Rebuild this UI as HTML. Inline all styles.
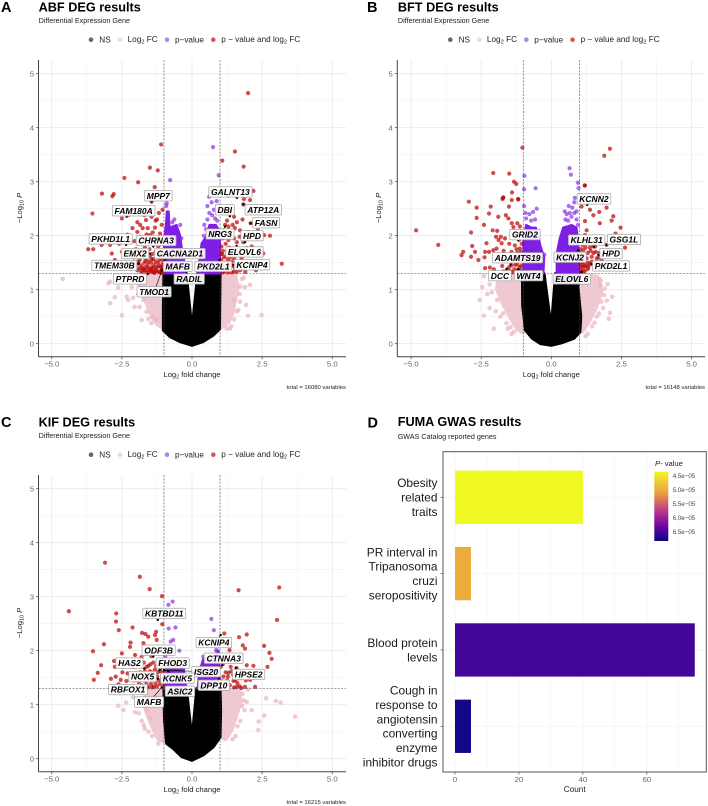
<!DOCTYPE html>
<html lang="en">
<head>
<meta charset="utf-8">
<title>DEG volcano plots and FUMA GWAS results</title>
<style>
html,body{margin:0;padding:0;background:#fff}
svg{display:block;font-family:"Liberation Sans",sans-serif}
.title{font-size:12.7px;font-weight:bold;fill:#000}
.sub{font-size:7.2px;fill:#222}
.letter{font-size:14.5px;font-weight:bold;fill:#000}
.leg{font-size:8.2px;fill:#222}
.axt{font-size:7.6px;fill:#222}
.cap{font-size:5.9px;fill:#222}
.tick{font-size:7.7px;fill:#666}
.gene{font-size:8.5px;font-weight:bold;font-style:italic;fill:#000}
.trait{font-size:11.9px;fill:#1a1a1a}
</style>
</head>
<body>
<svg id="figure" xmlns="http://www.w3.org/2000/svg" width="708" height="806" viewBox="0 0 708 806">
<defs>
<linearGradient id="plasma" x1="0" y1="0" x2="0" y2="1">
<stop offset="0" stop-color="#f0f921"/><stop offset=".12" stop-color="#f2d13a"/><stop offset=".3" stop-color="#e8a33d"/><stop offset=".5" stop-color="#c9507a"/><stop offset=".65" stop-color="#a0209a"/><stop offset=".82" stop-color="#5a04a0"/><stop offset="1" stop-color="#0d0887"/>
</linearGradient>
</defs>

<g id="panel-a">
<text class="letter" x="1" y="12">A</text>
<text class="title" x="38.6" y="11.7">ABF DEG results</text>
<text class="sub" x="38.6" y="23">Differential Expression Gene</text>
<g transform="translate(0,39.7)">
<circle cx="91" cy="0" r="2.3" fill="#666"/><text class="leg" x="99.3" y="3">NS</text>
<circle cx="120" cy="0" r="2.3" fill="#f6d6de"/><text class="leg" x="127.6" y="2.4">Log<tspan dy="1.6" font-size="5.8">2</tspan><tspan dy="-1.6"> FC</tspan></text>
<circle cx="167" cy="0" r="2.3" fill="#b583f2"/><text class="leg" x="175" y="3">p−value</text>
<circle cx="213.3" cy="0" r="2.3" fill="#cf5a5c"/><text class="leg" x="221.3" y="2.4">p − value and log<tspan dy="1.6" font-size="5.8">2</tspan><tspan dy="-1.6"> FC</tspan></text>
</g>
<g id="plot-a"></g>
<text class="axt" x="192" y="377" text-anchor="middle">Log<tspan dy="1.5" font-size="5.4">2</tspan><tspan dy="-1.5"> fold change</tspan></text>
<text class="axt" transform="translate(22,208) rotate(-90)" text-anchor="middle">−Log<tspan dy="1.5" font-size="5.4">10</tspan><tspan dy="-1.5" font-style="italic"> P</tspan></text>
<text class="cap" x="346" y="389" text-anchor="end">total = 16080 variables</text>
</g>

<g id="panel-b">
<text class="letter" x="367" y="12">B</text>
<text class="title" x="397.9" y="11.7">BFT DEG results</text>
<text class="sub" x="397.9" y="23">Differential Expression Gene</text>
<g transform="translate(359.3,39.7)">
<circle cx="91" cy="0" r="2.3" fill="#666"/><text class="leg" x="99.3" y="3">NS</text>
<circle cx="120" cy="0" r="2.3" fill="#f6d6de"/><text class="leg" x="127.6" y="2.4">Log<tspan dy="1.6" font-size="5.8">2</tspan><tspan dy="-1.6"> FC</tspan></text>
<circle cx="167" cy="0" r="2.3" fill="#b583f2"/><text class="leg" x="175" y="3">p−value</text>
<circle cx="213.3" cy="0" r="2.3" fill="#cf5a5c"/><text class="leg" x="221.3" y="2.4">p − value and log<tspan dy="1.6" font-size="5.8">2</tspan><tspan dy="-1.6"> FC</tspan></text>
</g>
<g id="plot-b"></g>
<text class="axt" x="551.3" y="377" text-anchor="middle">Log<tspan dy="1.5" font-size="5.4">2</tspan><tspan dy="-1.5"> fold change</tspan></text>
<text class="axt" transform="translate(381,208) rotate(-90)" text-anchor="middle">−Log<tspan dy="1.5" font-size="5.4">10</tspan><tspan dy="-1.5" font-style="italic"> P</tspan></text>
<text class="cap" x="705" y="389" text-anchor="end">total = 16148 variables</text>
</g>

<g id="panel-c">
<text class="letter" x="1" y="427">C</text>
<text class="title" x="38.6" y="426.7">KIF DEG results</text>
<text class="sub" x="38.6" y="438">Differential Expression Gene</text>
<g transform="translate(0,454.7)">
<circle cx="91" cy="0" r="2.3" fill="#666"/><text class="leg" x="99.3" y="3">NS</text>
<circle cx="120" cy="0" r="2.3" fill="#f6d6de"/><text class="leg" x="127.6" y="2.4">Log<tspan dy="1.6" font-size="5.8">2</tspan><tspan dy="-1.6"> FC</tspan></text>
<circle cx="167" cy="0" r="2.3" fill="#b583f2"/><text class="leg" x="175" y="3">p−value</text>
<circle cx="213.3" cy="0" r="2.3" fill="#cf5a5c"/><text class="leg" x="221.3" y="2.4">p − value and log<tspan dy="1.6" font-size="5.8">2</tspan><tspan dy="-1.6"> FC</tspan></text>
</g>
<g id="plot-c"></g>
<text class="axt" x="192" y="792" text-anchor="middle">Log<tspan dy="1.5" font-size="5.4">2</tspan><tspan dy="-1.5"> fold change</tspan></text>
<text class="axt" transform="translate(22,623) rotate(-90)" text-anchor="middle">−Log<tspan dy="1.5" font-size="5.4">10</tspan><tspan dy="-1.5" font-style="italic"> P</tspan></text>
<text class="cap" x="346" y="804" text-anchor="end">total = 16215 variables</text>
</g>

<g id="panel-d">
<text class="letter" x="367.5" y="427.5">D</text>
<text class="title" x="397.7" y="426">FUMA GWAS results</text>
<text class="sub" x="397.7" y="438.8">GWAS Catalog reported genes</text>
<g id="plot-d"></g>
<text class="axt" x="574.7" y="792" text-anchor="middle" style="font-size:8.2px">Count</text>
<g>
<text x="655" y="466" font-size="7.6" fill="#222"><tspan font-style="italic">P</tspan>- value</text>
<rect x="654.3" y="471.7" width="14" height="69.3" fill="url(#plasma)"/>
<g id="colorbar-labels"></g>
</g>
</g>
</svg>

<script>
// Shared axis tick labels
const xTickValues = [-5, -2.5, 0, 2.5, 5];
const xTickLabels = ['−5.0', '−2.5', '0.0', '2.5', '5.0'];
const yTickValues = [0, 1, 2, 3, 4, 5];
const lfcThreshold = 1;
const pThreshold = 1.3;

// ABF panel
const abfNsOutline = [[-1,1.3],[-1.02,.7],[-1.02,.25],[-.78,.13],[-.43,.04],[0,-.03],[.4,.04],[.76,.16],[.98,.27],[1,1.3],[.2,1.3],[.16,1.07],[0,.25],[-.16,1.07],[-.2,1.3]];
const abfPinkCoreLeft = [[-1,1.3],[-1.72,1.28],[-1.88,1.1],[-1.75,.9],[-1.6,.7],[-1.45,.5],[-1.25,.35],[-1.02,.28]];
const abfPinkCoreRight = [[1,1.3],[1.55,1.28],[1.65,1.05],[1.55,.8],[1.45,.55],[1.3,.38],[1.02,.28]];
const abfPurpleLeft = [[-1,1.3],[-1,1.95],[-.93,2.2],[-.9,2.45],[-.83,2.45],[-.8,2.15],[-.55,2.2],[-.42,2],[-.37,1.8],[-.29,1.6],[-.25,1.3]];
const abfPurpleRight = [[.22,1.3],[.27,1.58],[.34,1.86],[.52,2],[.62,2.2],[.85,2.2],[.97,2.1],[1,2],[1,1.3]];
const abfPurple = [[.75,3.64],[.95,3.12],[-.78,3.03],[.61,2.72],[.88,2.64],[-.9,2.75],[-.92,2.55],[.7,2.62],[.55,2.55],[.92,2.5],[-.63,2.3],[-.42,2.2],[-.38,1.95],[.44,2.2],[.42,2],[.55,2.3],[.62,2.42],[.72,2.38],[.82,2.32],[.9,2.28],[.5,2.12],[.78,2.48],[-.9,2.6],[-.86,2.35],[-.7,2.25]];
const abfPink = [[-4.61,1.2],[-2.92,1.15],[-2.98,1.12],[-2.63,1.04],[-2.33,.87],[-2.92,.75],[-2.75,.86],[-2.5,.53],[-2.28,.81],[-2.05,.68],[-2.1,.85],[-1.79,.44],[-1.62,.59],[-1.74,.81],[-1.87,.68],[-1.5,.93],[-1.38,.5],[-1.26,.44],[-1.72,1.22],[-1.9,1.1],[-1.92,.92],[-2.15,1.05],[-2.2,1.18],[-1.55,.46],[-1.45,.38],
[2.48,.53],[2,.52],[2.07,1.09],[1.93,.72],[1.35,.28],[1.24,.28],[1.71,.78],[1.47,.81],[1.89,1.05],[1.72,1.06],[1.78,1.2],[1.6,.6],[1.7,.92],[1.65,.62],[1.5,.45],[1.4,.32],[1.85,1.22]];
const abfRed = [[-1.1,3.69],[-1.5,3.26],[-1.22,3.21],[-2.41,3.07],[-1.92,2.99],[-1.33,2.9],[-3.21,2.78],[-2.79,2.77],[-2.84,2.73],[-3.55,2.41],[-1.44,2.63],[-2.5,2.32],[-2.27,2.38],[-1.95,2.25],[-1.85,2.2],[-1.64,2.29],[-1.44,2.35],[-1.32,2.15],[-1.08,2.2],[-1.95,2.07],[-2.12,2.14],[-1.76,2.14],[-1.58,2.14],[-1.85,1.98],[-1.5,2.01],[-1.14,2.04],[-3.7,1.75],[-3.52,1.75],[-3.22,1.83],[-2.86,1.67],[-2.92,1.83],[-2.27,1.7],[-2.5,1.7],[-2.6,1.85],[-2.05,1.9],[-1.7,1.9],[-1.35,1.92],[-1.05,1.85],[-1.2,1.8],[-2.1,1.62],[-2.3,1.5],[-2.55,1.45],[-2.75,1.55],[-2,1.75],[-1.85,1.72],[-1.68,1.78],[-1.52,1.75],[-1.3,1.7],[-1.12,1.68],[-1.25,2.3],[-1.18,2.42],[-1.05,2.48],[-1.4,2.06],[-1.62,2.02],[-2.3,2.02],[-2.2,1.88],[-1.92,1.85],[-1.55,1.88],[-1.2,1.95],[-1.08,1.98],[-1.3,2.28],[-1.7,2.38],[-1.55,2.48],
[-1.98,1.6],[-1.86,1.56],[-1.75,1.62],[-1.62,1.58],[-1.5,1.62],[-1.38,1.57],[-1.24,1.6],[-1.08,1.56],[-2.02,1.44],[-1.92,1.48],[-1.8,1.45],[-1.7,1.5],[-1.58,1.46],[-1.46,1.5],[-1.34,1.46],[-1.2,1.5],[-1.06,1.46],[-1.95,1.36],[-1.82,1.34],[-1.72,1.38],[-1.6,1.33],[-1.5,1.38],[-1.4,1.33],[-1.28,1.38],[-1.16,1.33],[-1.04,1.36],[-1.88,1.4],[-1.65,1.42],[-1.43,1.42],[-1.26,1.42],[-1.12,1.42],[-1.54,1.32],[-1.34,1.31],[-1.1,1.31],[-1.9,1.52],[-1.78,1.4],[-1.66,1.54],[-1.55,1.52],[-1.44,1.56],[-1.3,1.52],[-1.16,1.56],[-1.02,1.5],[-1.75,1.32],[-1.45,1.35],[-1.22,1.34],[-1.04,1.42],[-1.68,1.36],[-1.56,1.4],[-1.38,1.4],[-1.18,1.44],[-1.08,1.38],[-1.3,1.34],[-1.85,1.66],[-1.6,1.68],[-1.42,1.66],[-1.2,1.66],[-1.05,1.62],[-1.72,1.7],[-2.08,1.52],[-2.15,1.38],
[2,4.64],[1.53,3.56],[1.08,3.39],[1.84,3.28],[2.19,2.83],[1.85,2.68],[2.07,2.66],[1.29,2.74],[3.2,1.48],[2.78,2],[2.57,2.01],[2.54,2.23],[2.48,2.26],[1.83,2.58],[1.4,2.46],[1.5,2.35],[2.09,2.23],[2.01,2.07],[2.3,1.95],[1.71,2.1],[1.53,2.14],[1.35,2.04],[1.18,2.2],[1.3,2.17],[1.18,2.08],[1.42,1.98],[1.6,1.88],[1.83,1.88],[2.13,1.8],[2.42,1.73],[2.13,1.71],[1.77,1.58],[2.54,1.67],[1.96,1.77],[1.1,1.95],[1.05,1.8],[1.2,1.85],[1.32,1.78],[1.44,1.75],[1.6,1.65],[1.08,1.66],[1.22,1.62],[1.36,1.6],[1.5,1.58],[1.04,1.55],[1.16,1.5],[1.3,1.48],[1.44,1.44],[1.06,1.42],[1.2,1.38],[1.34,1.36],[1.5,1.34],[1.72,1.36],[1.9,1.33],[2.28,1.36],[1.1,1.32],[1.62,1.44],[1.1,1.72],[1.25,1.72],[1.4,1.68],[1.55,1.72],[1.7,1.74],[1.85,1.65],[1.04,1.66],[1.14,1.6],[1.28,1.55],[1.42,1.52],[1.58,1.48],[1.75,1.48],[1.04,1.46],[1.12,1.44],[1.24,1.42],[1.38,1.44],[1.52,1.42],[1.02,1.36],[1.15,1.34],[1.28,1.32],[1.42,1.32],[1.6,1.33],[1.3,1.92],[1.5,1.95],[1.7,1.98],[1.95,1.95],[1.25,2.28],[1.6,2.25],[1.8,2.3],[1.45,2.2],[2.1,2.42],[2.35,2.1]];
const abfGenes = [['GALNT13',1.6,2.7,1.37,2.81],['MPP7',-1.44,2.63,-1.2,2.74],['DBI',1.35,2.36,1.17,2.48],['ATP12A',1.83,2.58,2.54,2.48],['FAM180A',-2.33,2.35,-2.08,2.46],['FASN',2.09,2.23,2.64,2.24],['NRG3',1.18,2.17,1,2.03],['PKHD1L1',-2.35,1.83,-2.9,1.94],['CHRNA3',-1.38,1.8,-1.28,1.91],['HPD',1.89,1.88,2.14,2],['ELOVL6',1.59,1.81,1.87,1.7],['EMX2',-1.5,1.67,-2.03,1.67],['CACNA2D1',-.96,1.56,-.43,1.67],['TMEM30B',-1.91,1.48,-2.77,1.45],['TMOD1',-1.08,1.35,-1.35,.96],['MAFB',-1.08,1.36,-.51,1.43],['PKD2L1',.98,1.55,.76,1.43],['KCNIP4',1.47,1.46,2.14,1.46],['PTPRD',-1.59,1.29,-2.21,1.2],['RADIL',-.1,1.2,-.1,1.2]];

// BFT panel
const bftNsOutline = [[-1.03,1.3],[-1.02,.7],[-.92,.25],[-.68,.1],[-.38,0],[0,-.03],[.39,.02],[.81,.1],[1.02,.22],[1.05,.5],[.95,1.05],[1,1.3],[.15,1.3],[0,.28],[-.26,1.3]];
const bftPinkCoreLeft = [[-1,1.3],[-1.9,1.25],[-1.95,1],[-1.75,.75],[-1.5,.5],[-1.2,.25],[-1,.2]];
const bftPinkCoreRight = [[1,1.3],[1.65,1.25],[1.8,.95],[1.6,.65],[1.35,.4],[1.12,.22],[1,.2]];
const bftPurpleLeft = [[-1,1.3],[-1,1.95],[-.9,2.2],[-.7,2.15],[-.55,2.15],[-.46,2],[-.38,1.8],[-.25,1.6],[-.28,1.3]];
const bftPurpleRight = [[.19,1.3],[.19,1.67],[.3,1.95],[.42,2.15],[.72,2.2],[.9,2.15],[.96,1.9],[1,1.3]];
const bftPurple = [[-.96,3.11],[-.97,2.86],[-.56,2.88],[.65,3.25],[.7,3.13],[.95,2.98],[.97,2.88],[.84,2.7],[-.97,2.55],[.62,2.55],[.55,2.4],[-.25,1.65],[-.52,2.5],[.9,2.45],[.82,2.62],[-.9,2.32],[-.78,2.4],[-.65,2.44],[-.58,2.3],[-.72,2.28],[-.92,2.42],[.5,2.3],[.6,2.28],[.72,2.35],[.82,2.42],[.75,2.52],[.9,2.3],[.66,2.42],[.48,2.45],[.95,2.2]];
const bftPink = [[-2.55,.81],[-2.46,1.05],[-2.4,.52],[-2.05,.28],[-2.2,.66],[-1.93,.81],[-1.72,.56],[-1.45,.31],[-1.33,.22],[-2.4,1.25],[-2.2,1.1],[-2,1.2],[-2.12,.95],[-2.28,.92],[-1.98,.6],[-1.82,.5],[-1.6,.38],[-1.55,.28],[-1.42,.18],
[2.17,.87],[2.09,.57],[2.05,.46],[1.88,.9],[1.76,1.08],[1.76,1.16],[1.7,.56],[1.54,.39],[1.22,.14],[1.72,1.2],[1.9,1.02],[1.98,.8],[1.85,.66],[1.78,.78],[1.45,.32],[1.62,.5],[2.0,1.1],[1.3,.18]];
const bftRed = [[-1.03,3.63],[-2.07,3.16],[-1.5,3.15],[-1.33,3],[-1.25,2.96],[-1.4,2.8],[-1.72,2.7],[-1.74,2.68],[-1.18,2.68],[-4.82,2.1],[-4.03,1.83],[-2.94,2.63],[-2.66,2.52],[-2.66,2.33],[-2.16,2.54],[-2.22,2.41],[-2.4,2.2],[-2.86,2.06],[-2.82,1.81],[-3.14,1.7],[-3.2,1.64],[-2.86,1.61],[-2.6,1.55],[-2.36,1.4],[-2.19,1.41],[-2.31,1.86],[-2.72,1.7],[-2.36,1.7],[-2.22,1.7],[-2.38,1.6],[-2.07,1.73],[-2.09,2.1],[-1.93,2.09],[-1.89,2.35],[-1.62,2.38],[-1.51,2.54],[-1.71,2.71],[-1.41,2.66],[-1.18,2.67],[-1.53,2.32],[-1.41,2.23],[-1.21,2.23],[-1.12,2.17],[-1.97,1.98],[-1.88,1.92],[-1.77,1.86],[-1.95,1.76],[-1.35,2.16],[-1.8,1.98],[-1.65,1.95],[-1.3,1.98],[-1.15,1.92],[-1.05,1.85],[-1.5,1.85],[-1.3,1.82],[-1.12,1.76],[-1.7,1.72],[-1.42,1.7],[-1.22,1.68],[-1.06,1.62],[-1.85,1.58],[-1.6,1.55],[-1.35,1.58],[-1.15,1.55],[-1.75,1.44],[-1.5,1.42],[-1.28,1.46],[-1.08,1.44],[-1.2,1.36],[-1.04,1.34],[-1.38,1.32],[-2.05,1.38],[-1.7,1.34],[-1.24,1.75],[-1.1,1.7],[-1.3,1.62],[-1.18,1.62],[-1.05,1.52],[-1.22,1.48],[-1.14,1.42],[-1.42,1.45],[-1.32,1.38],[-1.1,1.36],[-1.55,1.36],[-1.25,1.34],[-1.45,1.34],
[1.19,2.93],[2.09,3.61],[1.89,3.48],[1.2,2.93],[1.08,2.54],[1.38,2.48],[1.71,2.44],[1.97,2.52],[2.21,2.36],[2.15,2.28],[1.5,2.38],[1.73,2.23],[1.2,2.27],[1.26,2.1],[2.47,2.15],[2.29,2.04],[1.97,1.83],[2.63,1.78],[1.2,2.01],[1.08,1.92],[1.14,1.73],[1.38,1.78],[1.56,1.8],[1.26,1.58],[1.62,1.58],[1.79,1.55],[1.44,1.61],[1.38,1.47],[1.14,1.4],[1.05,1.43],[1.2,1.35],[1.32,1.5],[1.05,1.6],[1.12,1.52],[1.3,1.68],[1.5,1.68],[1.7,1.68],[1.85,1.7],[1.04,1.75],[1.25,1.85],[1.45,1.88],[1.06,1.32],[1.14,1.32],[1.3,1.38],[1.05,1.36],[1.18,1.65],[1.22,1.78],[1.4,1.72],[1.58,1.7],[1.2,1.5],[1.1,1.46],[1.25,1.44],[1.45,1.52],[1.58,1.48],[1.1,1.6],[1.32,1.42],[1.18,1.44],[1.02,1.5],[1.02,1.68],[1.7,1.6],[1.5,1.8],[1.12,1.82]];
const bftGenes = [['KCNN2',1.28,2.57,1.52,2.68],['GRID2',-1.18,1.92,-.94,2.02],['KLHL31',1.52,1.8,1.26,1.92],['GSG1L',1.97,1.83,2.59,1.93],['HPD',1.68,1.64,2.13,1.67],['ADAMTS19',-1.45,1.47,-1.2,1.59],['KCNJ2',.96,1.73,.67,1.6],['PKD2L1',1.44,1.47,2.13,1.44],['DCC',-1.59,1.39,-1.83,1.26],['WNT4',-1.18,1.38,-.81,1.26],['ELOVL6',1.08,1.33,.73,1.2]];

// KIF panel
const kifNsOutline = [[-1,1.3],[-.98,.7],[-.9,.28],[-.67,.19],[-.37,.04],[0,-.03],[.4,.07],[.76,.22],[1,.4],[1.02,.9],[1,1.3],[.17,1.3],[0,.35],[-.2,1.3]];
const kifPinkCoreLeft = [[-1,1.3],[-1.6,1.25],[-1.75,1.05],[-1.6,.8],[-1.4,.55],[-1.2,.35],[-.98,.3]];
const kifPinkCoreRight = [[1,1.3],[1.7,1.28],[1.75,1.05],[1.6,.8],[1.4,.5],[1.2,.35],[1,.4]];
const kifPurpleLeft = [[-1,1.3],[-1,1.62],[-.9,1.72],[-.3,1.7],[-.25,1.5],[-.2,1.3]];
const kifPurpleRight = [[.2,1.3],[.25,1.6],[.4,1.85],[.85,1.9],[.95,2],[1,1.3]];
const kifPurple = [[-.69,2.91],[-.84,2.85],[.69,2.59],[.78,2.38],[-.83,2.41],[-.59,2.43],[-.67,2.2],[-.76,2.17],[-.45,2],[.86,2.01],[.9,1.98],[.4,1.89],[.92,2.08],[-.9,2.02],[-.95,1.9]];
const kifPink = [[-2.63,.98],[-2.45,.9],[-2.35,1.04],[-2.03,.86],[-1.79,.7],[-1.68,.56],[-1.2,.28],[-1.62,.9],[-1.5,.76],[-2.1,1.14],[-1.9,1.1],[-1.8,1.02],[-1.55,.5],[-1.42,.42],[-1.9,.84],[-1.72,.62],
[3.67,.78],[3.16,1.04],[2.99,1.07],[2.64,1.12],[2.58,.8],[2.38,.69],[2.36,.53],[2.13,.9],[1.87,.9],[2,1.28],[1.8,1.2],[1.55,.42],[1.72,.7],[1.85,1.08],[1.62,.6],[1.45,.36],[1.95,1.05],[1.78,.98]];
const kifRed = [[-3.1,3.63],[-1.86,3.37],[-1.51,3.14],[1.66,3.12],[3.11,3.17],[-1.07,3.01],[-4.39,2.73],[-2.7,2.69],[-2.71,2.54],[-2.61,2.38],[-3.14,2.12],[-3.53,1.99],[-3.24,1.73],[-3.36,1.59],[-3.5,1.46],[-2.89,1.48],[-2.72,1.52],[-2.54,1.46],[-2.34,1.44],[-2.75,1.7],[-2.78,1.81],[-2.5,1.95],[-2.19,2.15],[-2.21,2.07],[-2.12,2.43],[-1.78,2.33],[-1.66,2.31],[-1.56,2.26],[-1.73,2.14],[-2.03,1.92],[-1.28,2.35],[-1.32,2.29],[-1.26,2.2],[-1.06,2.49],[-2.48,1.6],[-2.62,1.38],[-2.3,1.58],[-2.1,1.7],[-2.05,1.45],[-2.12,1.35],
[-1.8,1.88],[-1.62,1.95],[-1.45,1.9],[-1.72,1.78],[-1.55,1.72],[-1.38,1.78],[-1.2,1.8],[-1.06,1.75],[-1.85,1.6],[-1.68,1.62],[-1.5,1.62],[-1.32,1.65],[-1.12,1.62],[-1.75,1.5],[-1.58,1.48],[-1.4,1.52],[-1.24,1.52],[-1.06,1.5],[-1.62,1.38],[-1.46,1.38],[-1.3,1.4],[-1.14,1.38],[-1.55,1.32],[-1.36,1.33],[-1.02,1.34],[-1.9,1.42],[-1.95,1.72],[-1.62,1.7],[-1.48,1.75],[-1.28,1.72],[-1.14,1.7],[-1.42,1.6],[-1.22,1.6],[-1.05,1.58],[-1.55,1.55],[-1.35,1.45],[-1.18,1.45],[-1.48,1.45],[-1.68,1.44],[-1.08,1.42],[-1.25,1.34],[-1.42,1.32],[-1.65,1.33],[-1.8,1.36],
[3.03,2.57],[1.95,2.3],[1.68,2.25],[1.81,2.1],[1.89,2.04],[2.57,2.09],[2.76,1.96],[2.84,1.85],[2.69,1.7],[1.34,2.01],[1.15,2.32],[2.19,1.72],[1.95,1.73],[1.59,1.68],[1.38,1.7],[1.3,1.59],[1.47,1.55],[1.71,1.49],[2.07,1.46],[2.25,1.33],[1.89,1.33],[1.59,1.33],[1.76,1.31],[1.25,1.45],[1.12,1.52],[1.35,1.36],[1.48,1.44],[1.02,1.7],[1.1,1.75],[1.7,1.34],[1.62,1.4],[1.92,1.45],[1.4,1.62],[1.2,1.6],[1.55,1.45],[1.15,1.38],[1.05,1.44],[1.28,1.52],[1.82,1.6],[1.5,1.32]];
const kifGenes = [['KBTBD11',-1.22,2.57,-.99,2.69],['KCNIP4',1.02,2.29,.78,2.15],['ODF3B',-1.38,1.89,-1.19,2.01],['CTNNA3',1.08,1.73,1.13,1.86],['HAS2',-1.7,1.67,-2.23,1.77],['FHOD3',-1.16,1.64,-.69,1.77],['ISG20',-1,1.64,.5,1.61],['NOX5',-1.22,1.48,-1.76,1.52],['KCNK5',-.85,1.62,-.52,1.49],['HPSE2',1.56,1.68,2.02,1.56],['DPP10',.97,1.49,.78,1.36],['RBFOX1',-1.59,1.33,-2.28,1.28],['ASIC2',-.43,1.25,-.43,1.25],['MAFB',-1.08,1.32,-1.53,1.05]];

// GWAS panel
const traitLines = [['Obesity','related','traits'],['PR interval in','Tripanosoma','cruzi','seropositivity'],['Blood protein','levels'],['Cough in','response to','angiotensin','converting','enzyme','inhibitor drugs']];
const traitCounts = [40, 5, 75, 5];
const traitPValues = [4.35e-5, 5.0e-5, 6.5e-5, 6.8e-5];
const countTicks = [0, 20, 40, 60];
const colorbarTicks = [4.5e-5, 5.0e-5, 5.5e-5, 6.0e-5, 6.5e-5];
const colorbarLabels = ['4.5e−05', '5.0e−05', '5.5e−05', '6.0e−05', '6.5e−05'];

const NS = 'http://www.w3.org/2000/svg';
function make(tag, attrs, parent) {
  const node = document.createElementNS(NS, tag);
  for (const k in attrs) node.setAttribute(k, attrs[k]);
  parent.appendChild(node);
  return node;
}

function drawVolcano(groupId, geom, nsOutline, pinkCoreLeft, pinkCoreRight, purpleLeft, purpleRight, purple, pink, red, genes) {
  const root = document.getElementById(groupId);
  const sx = v => geom.x0 + v * 28.05;
  const sy = v => geom.y0 - v * 54;
  const top = sy(5) - 13.7, bottom = sy(0) + 13;
  const polyPoints = arr => arr.map(p => sx(p[0]).toFixed(2) + ',' + sy(p[1]).toFixed(2)).join(' ');

  for (let i = -5; i <= 5; i += 1.25) {
    const major = Math.abs(i / 2.5 - Math.round(i / 2.5)) < 1e-6;
    const g = make('line', {x1: sx(i), x2: sx(i), y1: top, y2: bottom, stroke: major ? '#e8e8e8' : '#f0f0f0', 'stroke-width': major ? .8 : .55}, root);
    
    
  }
  for (let j = 0; j <= 5; j += .5) {
    const major = Number.isInteger(j);
    const g = make('line', {x1: geom.left, x2: geom.right, y1: sy(j), y2: sy(j), stroke: major ? '#e8e8e8' : '#f0f0f0', 'stroke-width': major ? .8 : .55}, root);
    
    
  }

  const pinkL = make('polygon', {points: polyPoints(pinkCoreLeft), fill: '#f0c8d1', stroke: '#f0c8d1', 'stroke-width': 3, 'stroke-linejoin': 'round'}, root);
  
  
  const pinkR = make('polygon', {points: polyPoints(pinkCoreRight), fill: '#f0c8d1', stroke: '#f0c8d1', 'stroke-width': 3, 'stroke-linejoin': 'round'}, root);
  
  

  pink.forEach(p => {
    const c = make('circle', {cx: sx(p[0]), cy: sy(p[1]), r: 2.3, fill: '#ecb4c0', 'fill-opacity': .72}, root);
    
    
  });

  const nsMass = make('polygon', {points: polyPoints(nsOutline), fill: '#000', stroke: '#000', 'stroke-width': 3, 'stroke-linejoin': 'round'}, root);
  
  

  const purpleL = make('polygon', {points: polyPoints(purpleLeft), fill: '#7f1fe6', stroke: '#7f1fe6', 'stroke-width': 2, 'stroke-linejoin': 'round'}, root);
  
  
  const purpleR = make('polygon', {points: polyPoints(purpleRight), fill: '#7f1fe6', stroke: '#7f1fe6', 'stroke-width': 2, 'stroke-linejoin': 'round'}, root);
  
  

  purple.forEach(p => {
    const c = make('circle', {cx: sx(p[0]), cy: sy(p[1]), r: 2.1, fill: '#7f1fe6', 'fill-opacity': .65}, root);
    
    
  });

  red.forEach(p => {
    const c = make('circle', {cx: sx(p[0]), cy: sy(p[1]), r: 2.1, fill: '#bb0000', 'fill-opacity': .7}, root);
    
    
  });

  const guides = [[sx(-lfcThreshold), sx(-lfcThreshold), top, bottom], [sx(lfcThreshold), sx(lfcThreshold), top, bottom], [geom.left, geom.right, sy(pThreshold), sy(pThreshold)]];
  guides.forEach(d => {
    const l = make('line', {x1: d[0], x2: d[1], y1: d[2], y2: d[3], stroke: '#444', 'stroke-width': .6, 'stroke-dasharray': '2 1.4'}, root);
    
    
  });

  const yAxis = make('line', {x1: geom.left, x2: geom.left, y1: top, y2: bottom, stroke: '#444', 'stroke-width': 1}, root);
  
  
  const xAxis = make('line', {x1: geom.left, x2: geom.right, y1: bottom, y2: bottom, stroke: '#444', 'stroke-width': 1}, root);
  
  

  xTickValues.forEach((v, i) => {
    const m = make('line', {x1: sx(v), x2: sx(v), y1: bottom, y2: bottom + 2.5, stroke: '#444', 'stroke-width': .7}, root);
    
    
    const t = make('text', {x: sx(v), y: bottom + 10, 'text-anchor': 'middle', class: 'tick'}, root);
    
    
    t.textContent = xTickLabels[i];
  });
  yTickValues.forEach(v => {
    const m = make('line', {x1: geom.left - 2.5, x2: geom.left, y1: sy(v), y2: sy(v), stroke: '#444', 'stroke-width': .7}, root);
    
    
    const t = make('text', {x: geom.left - 4.5, y: sy(v) + 2.8, 'text-anchor': 'end', class: 'tick'}, root);
    
    
    t.textContent = String(v);
  });

  genes.forEach(g => {
    const ax = sx(g[1]), ay = sy(g[2]), lx = sx(g[3]), ly = sy(g[4]);
    if (ax !== lx || ay !== ly) {
      const link = make('line', {x1: ax, y1: ay, x2: lx, y2: ly, stroke: '#000', 'stroke-width': .6}, root);
      
      
      const dot = make('circle', {cx: ax, cy: ay, r: 1.2, fill: '#000'}, root);
      
      
    }
  });
  genes.forEach(g => {
    const lx = sx(g[3]), ly = sy(g[4]);
    const box = make('rect', {y: ly - 5.2, height: 10.4, rx: 1, fill: '#fff', 'fill-opacity': .92, stroke: '#a5a5a5', 'stroke-width': .75}, root);
    
    
    const t = make('text', {x: lx, y: ly + 3.1, 'text-anchor': 'middle', class: 'gene'}, root);
    
    
    t.textContent = g[0];
    const w = t.getComputedTextLength() + 4.4;
    box.setAttribute('x', lx - w / 2);
    box.setAttribute('width', w);
  });
}

drawVolcano('plot-a', {x0: 192, y0: 343.7, left: 38.5, right: 346}, abfNsOutline, abfPinkCoreLeft, abfPinkCoreRight, abfPurpleLeft, abfPurpleRight, abfPurple, abfPink, abfRed, abfGenes);
drawVolcano('plot-b', {x0: 551.3, y0: 343.7, left: 397.3, right: 705}, bftNsOutline, bftPinkCoreLeft, bftPinkCoreRight, bftPurpleLeft, bftPurpleRight, bftPurple, bftPink, bftRed, bftGenes);
drawVolcano('plot-c', {x0: 192, y0: 758.7, left: 38.5, right: 346}, kifNsOutline, kifPinkCoreLeft, kifPinkCoreRight, kifPurpleLeft, kifPurpleRight, kifPurple, kifPink, kifRed, kifGenes);

(function drawBars() {
  const root = document.getElementById('plot-d');
  const left = 443, right = 706.3, top = 451.7, bottom = 772;
  const sx = v => 455 + v * 3.197;
  const sy = i => 497.3 + i * 76.33;
  const barH = 53.3;
  const pMin = 4.35e-5, pMax = 6.82e-5;
  const plasmaStops = [[0,[13,8,135]],[.18,[90,4,160]],[.35,[160,32,154]],[.5,[201,80,122]],[.7,[232,163,61]],[.88,[242,209,58]],[1,[240,249,33]]];
  const colorFor = p => {
    const t = Math.max(0, Math.min(1, (pMax - p) / (pMax - pMin)));
    for (let i = 1; i < plasmaStops.length; i++) {
      if (t <= plasmaStops[i][0]) {
        const a = plasmaStops[i - 1], b = plasmaStops[i], f = (t - a[0]) / (b[0] - a[0]);
        return 'rgb(' + a[1].map((c, k) => Math.round(c + (b[1][k] - c) * f)).join(',') + ')';
      }
    }
    return 'rgb(240,249,33)';
  };

  for (let v = 0; v <= 70; v += 10) {
    const g = make('line', {x1: sx(v), x2: sx(v), y1: top, y2: bottom, stroke: '#f3f3f3', 'stroke-width': v % 20 === 0 ? .8 : .5}, root);
    
    
  }
  traitCounts.forEach((count, i) => {
    const g = make('line', {x1: left, x2: right, y1: sy(i), y2: sy(i), stroke: '#f3f3f3', 'stroke-width': .8}, root);
    
    
    const bar = make('rect', {x: sx(0), y: sy(i) - barH / 2, width: sx(count) - sx(0), height: barH, fill: colorFor(traitPValues[i])}, root);
    
    
    const m = make('line', {x1: left - 2.5, x2: left, y1: sy(i), y2: sy(i), stroke: '#444', 'stroke-width': .7}, root);
    
    
    const lines = traitLines[i];
    lines.forEach((txt, k) => {
      const t = make('text', {x: 437.5, y: sy(i) + (k - (lines.length - 1) / 2) * 14.35 + 4.2, 'text-anchor': 'end', class: 'trait'}, root);
      
      
      t.textContent = txt;
    });
  });
  const frame = make('rect', {x: left, y: top, width: right - left, height: bottom - top, fill: 'none', stroke: '#555', 'stroke-width': 1}, root);
  
  
  countTicks.forEach(v => {
    const m = make('line', {x1: sx(v), x2: sx(v), y1: bottom, y2: bottom + 2.5, stroke: '#444', 'stroke-width': .7}, root);
    
    
    const t = make('text', {x: sx(v), y: bottom + 10, 'text-anchor': 'middle', class: 'tick'}, root);
    
    
    t.textContent = String(v);
  });
  const cb = document.getElementById('colorbar-labels');
  colorbarTicks.forEach((p, i) => {
    const y = 471.7 + (p - pMin) / (pMax - pMin) * 69.3;
    const t = make('text', {x: 672.7, y: y + 2, 'font-size': 6.2, fill: '#444'}, cb);
    
    
    t.textContent = colorbarLabels[i];
  });
})();
</script>
</body>
</html>
